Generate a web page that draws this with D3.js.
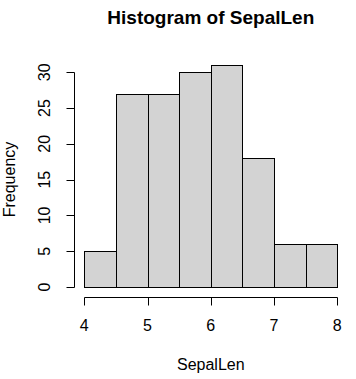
<!DOCTYPE html>
<html><head><meta charset="utf-8">
<script src="https://cdn.jsdelivr.net/npm/d3@7"></script>
<style>html,body{margin:0;padding:0;background:#fff;}svg{display:block;}</style>
</head><body>
<script>
const binEdges = [4, 4.5, 5, 5.5, 6, 6.5, 7, 7.5, 8];
const counts = [5, 27, 27, 30, 31, 18, 6, 6];
const xTicks = [4, 5, 6, 7, 8];
const yTicks = [0, 5, 10, 15, 20, 25, 30];
const title = "Histogram of SepalLen";
const xLabel = "SepalLen";
const yLabel = "Frequency";

const W = 356, H = 379;
const svg = d3.select("body").append("svg").attr("width", W).attr("height", H);
const font = "Liberation Sans, Arial, sans-serif";

const x = d3.scaleLinear().domain([4, 8]).range([84.3, 337.3]);
const y = d3.scaleLinear().domain([0, 30]).range([287, 72.3]);

const bins = counts.map((c, i) => ({x0: binEdges[i], x1: binEdges[i + 1], c}));
svg.append("g").selectAll("rect").data(bins).join("rect")
  .attr("x", d => Math.round(x(d.x0)) + 0.5)
  .attr("y", d => Math.round(y(d.c)) + 0.5)
  .attr("width", d => Math.round(x(d.x1)) - Math.round(x(d.x0)))
  .attr("height", d => Math.round(y(0)) - Math.round(y(d.c)))
  .attr("fill", "#d3d3d3").attr("stroke", "#000").attr("stroke-width", 1);

// x axis
const xa = svg.append("g").attr("transform", "translate(0,297.5)");
xa.append("line").attr("x1", Math.round(x(4)) + 0.5).attr("x2", Math.round(x(8)) + 0.5)
  .attr("stroke", "#000");
xa.selectAll("line.t").data(xTicks).join("line").attr("class", "t")
  .attr("x1", d => Math.round(x(d)) + 0.5).attr("x2", d => Math.round(x(d)) + 0.5)
  .attr("y1", 0).attr("y2", 8).attr("stroke", "#000");
xa.selectAll("text").data(xTicks).join("text")
  .attr("x", d => x(d)).attr("y", 33.5).attr("text-anchor", "middle")
  .attr("font-family", font).attr("font-size", 16).text(d => d);

// y axis
const ya = svg.append("g").attr("transform", "translate(74.5,0)");
ya.append("line").attr("y1", Math.round(y(0)) + 0.5).attr("y2", Math.round(y(30)) + 0.5)
  .attr("stroke", "#000");
ya.selectAll("line.t").data(yTicks).join("line").attr("class", "t")
  .attr("y1", d => Math.round(y(d)) + 0.5).attr("y2", d => Math.round(y(d)) + 0.5)
  .attr("x1", 0).attr("x2", -8).attr("stroke", "#000");
ya.selectAll("text").data(yTicks).join("text")
  .attr("transform", d => `translate(-24.5,${y(d)}) rotate(-90)`)
  .attr("text-anchor", "middle")
  .attr("font-family", font).attr("font-size", 16).text(d => d);

svg.append("text").attr("x", 210.8).attr("y", 24).attr("text-anchor", "middle")
  .attr("font-family", font).attr("font-size", 19).attr("font-weight", "bold").text(title);
svg.append("text").attr("x", 210.8).attr("y", 369.5).attr("text-anchor", "middle")
  .attr("font-family", font).attr("font-size", 16).text(xLabel);
svg.append("text").attr("transform", "translate(14.5,179.5) rotate(-90)").attr("text-anchor", "middle")
  .attr("font-family", font).attr("font-size", 16).text(yLabel);
</script>
</body></html>
